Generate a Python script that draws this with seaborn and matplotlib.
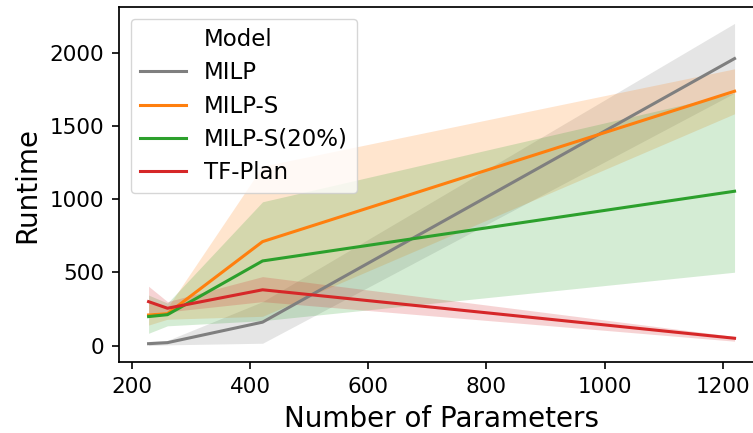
import matplotlib
matplotlib.use("Agg")
import matplotlib.pyplot as plt
from matplotlib.lines import Line2D
import pandas as pd
import seaborn as sns

# number of parameters per network
params = [228, 260, 421, 1220]

models = ["MILP", "MILP-S", "MILP-S(20%)", "TF-Plan"]

# runtime: mean line plus lower / upper band
milp_mid = [13, 20, 160, 1960]
milp_lo = [0, 5, 16, 1725]
milp_hi = [28, 35, 300, 2200]

milps_mid = [209, 218, 710, 1737]
milps_lo = [140, 180, 200, 1583]
milps_hi = [290, 260, 1225, 1890]

milps20_mid = [198, 211, 578, 1054]
milps20_lo = [84, 135, 170, 501]
milps20_hi = [345, 290, 982, 1725]

tfplan_mid = [300, 255, 381, 50]
tfplan_lo = [225, 230, 300, 30]
tfplan_hi = [405, 300, 471, 62]

colors = ["tab:gray", "tab:orange", "tab:green", "tab:red"]

series = {
    "MILP": (milp_lo, milp_mid, milp_hi),
    "MILP-S": (milps_lo, milps_mid, milps_hi),
    "MILP-S(20%)": (milps20_lo, milps20_mid, milps20_hi),
    "TF-Plan": (tfplan_lo, tfplan_mid, tfplan_hi),
}

rows = []
for name, (lo, mid, hi) in series.items():
    for x, a, b, c in zip(params, lo, mid, hi):
        for v in (a, b, c):
            rows.append({"Model": name, "Number of Parameters": x, "Runtime": v})
df = pd.DataFrame(rows)

plt.rcParams['font.family'] = 'DejaVu Sans'
fig = plt.figure(figsize=(7.53, 4.33), dpi=100)
ax = fig.add_axes([0.1584, 0.1647, 0.856, 0.8184])

# median of (lo, mid, hi) is the line, min/max is the band
sns.lineplot(
    data=df, x="Number of Parameters", y="Runtime", hue="Model",
    hue_order=models, palette=colors, estimator="median",
    errorbar=lambda v: (v.min(), v.max()), linewidth=2.2,
    err_kws={"linewidth": 0}, legend=False, ax=ax
)

ax.set_xlabel("Number of Parameters", fontsize=20, labelpad=6)
ax.set_ylabel("Runtime", fontsize=20, labelpad=6)
ax.set_xticks([200, 400, 600, 800, 1000, 1200])
ax.set_yticks([0, 500, 1000, 1500, 2000])
ax.tick_params(labelsize=15.5, length=5, width=1.2, pad=6)
for sp in ax.spines.values():
    sp.set_linewidth(1.25)

handles = [Line2D([], [], color='none', label="Model")]
for name, c in zip(models, colors):
    handles.append(Line2D([], [], color=c, lw=2.2, label=name))
ax.legend(handles=handles, loc="upper left", fontsize=16.5,
          handlelength=2.0, labelspacing=0.45, borderaxespad=0.5)

fig.savefig("out.png", dpi=100)
